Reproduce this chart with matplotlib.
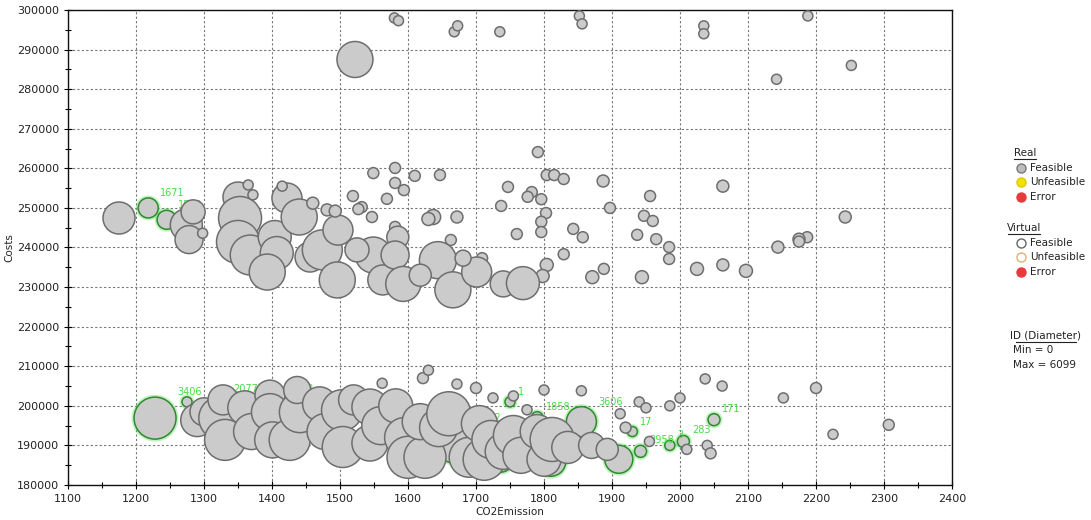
import matplotlib
matplotlib.use("Agg")
import matplotlib.pyplot as plt
from matplotlib.lines import Line2D
import numpy as np

# ---- solutions (CO2 emission, costs, ID) ----
co2 = [
    # upper outliers
    1580, 1586, 1668, 1673, 1735, 1852, 1856, 2035, 2035, 2188, 1522, 2142, 2252,
    # upper band
    1175, 1274, 1278, 1284, 1298,
    1350, 1353, 1350, 1368, 1404, 1407, 1393, 1422, 1440, 1456, 1474, 1496, 1497,
    1365, 1372, 1415, 1460, 1481, 1493, 1519, 1532, 1547, 1549, 1527, 1569,
    1549, 1563, 1525,
    1581, 1610, 1647, 1581, 1594, 1791, 1804, 1815, 1829, 1887, 1747, 1782, 1776,
    1796, 1737, 1897, 1956, 1637, 1630, 1672, 1803, 1796, 1796, 1760, 1843, 1857,
    1947, 1960, 1937, 1965, 1984, 1984, 1829, 1804, 1798, 1888, 1871, 1944, 1663,
    1709, 1581,
    1585, 1581, 1644, 1593, 1666, 1701, 1740, 1769, 1681, 1618,
    2063, 2243, 2187, 2175, 2175, 2144, 2025, 2063, 2097,
    # lower band
    1290, 1300, 1324, 1331, 1328, 1360, 1370, 1397, 1397, 1401, 1426, 1441, 1437,
    1470, 1478, 1503, 1504, 1520, 1544, 1544, 1560, 1582, 1595, 1600, 1625, 1618,
    1645, 1660, 1690, 1712, 1705, 1722, 1740, 1755, 1766, 1790, 1800, 1812, 1835,
    1870, 1893,
    1562, 1622, 1630, 1672, 1700, 1725, 1755, 1775, 1800, 1855, 1912, 1920, 1940,
    1950, 1955, 1985, 2000, 2010, 2037, 2040, 2045, 2062, 2152, 2200, 2225, 2307,
]
costs = [
    298000, 297300, 294500, 296000, 294500, 298500, 296500, 296000, 294000, 298500,
    287500, 282500, 286000,
    247450, 245700, 242000, 249000, 243600,
    252750, 247450, 241400, 238100, 242650, 238600, 233800, 252500, 247700, 237600,
    239400, 231800, 244400,
    255800, 253300, 255500, 251200, 249500, 249200, 253000, 250200, 247700, 258800,
    249700, 252300,
    238100, 231800, 239400,
    260100, 258100, 258300, 256300, 254500, 264100, 258300, 258300, 257300, 256800,
    255300, 254000, 252800, 252200, 250500, 250000, 253000, 247700, 247200, 247700,
    248700, 246500, 243900, 243400, 244700, 242600, 248000, 246700, 243200, 242100,
    240100, 237100, 238300, 235600, 232800, 234600, 232500, 232500, 241900, 237300,
    245200,
    242600, 238100, 236800, 230800, 229300, 233800, 230800, 231000, 237300, 233000,
    255500, 247700, 242600, 242100, 241500, 240100, 234600, 235600, 234100,
    196400, 198500, 196900, 191400, 201500, 199500, 193500, 202700, 198400, 191400,
    191400, 198400, 204000, 200500, 193500, 198900, 189600, 201500, 199700, 190600,
    195000, 200000, 192000, 187000, 187000, 196000, 194500, 198000, 187000, 186500,
    195500, 191500, 188500, 192500, 187500, 193500, 186500, 191500, 189500, 190000,
    189000,
    205700, 207000, 209000, 205500, 204500, 202000, 202500, 199000, 204000, 203800,
    198000, 194500, 201000, 199500, 191000, 200000, 202000, 189000, 206800, 190000,
    188000, 205000, 202000, 204500, 192800, 195200,
]
ids = [
    1390, 1390, 1390, 1390, 1390, 1390, 1390, 1390, 1390, 1390, 4990, 1390, 1390,
    4440, 4440, 3880, 3330, 1390,
    4160, 5960, 5960, 5540, 4570, 4570, 4990, 4160, 4990, 4160, 5540, 4990, 4160,
    1390, 1390, 1390, 1660, 1660, 1660, 1520, 1520, 1520, 1520, 1520, 1520,
    4990, 4160, 3330,
    1520, 1520, 1520, 1520, 1520, 1520, 1520, 1520, 1520, 1660, 1520, 1520, 1520,
    1520, 1520, 1520, 1520, 2080, 1800, 1660, 1520, 1520, 1520, 1520, 1520, 1520,
    1520, 1520, 1520, 1520, 1520, 1520, 1520, 1800, 1800, 1520, 1800, 1800, 1520,
    1520, 1520,
    3050, 3880, 5130, 4850, 4990, 4160, 3600, 4570, 2220, 3050,
    1660, 1660, 1520, 1660, 1520, 1660, 1800, 1660, 1800,
    4570, 3880, 5960, 5680, 4160, 4710, 4990, 4160, 5130, 4990, 5680, 5680, 3740,
    4710, 4990, 5680, 5680, 4160, 4990, 4990, 5270, 4710, 5540, 5820, 5820, 4990,
    5270, 6099, 5540, 5820, 4990, 5270, 4990, 5540, 4990, 4710, 4710, 6099, 4440,
    3600, 3050,
    1390, 1520, 1390, 1390, 1520, 1390, 1390, 1390, 1390, 1390, 1390, 1520, 1390,
    1390, 1390, 1390, 1390, 1390, 1390, 1390, 1520, 1390, 1390, 1520, 1390, 1520,
]

# labelled (highlighted) solutions
hl_co2 = [1218, 1245, 1228, 1275, 1330, 1352, 1430, 1670, 1750, 1790, 1855, 1910,
          1930, 2005, 1942, 2050, 1985, 1810, 1735]
hl_costs = [250000, 247000, 196900, 201000, 201500, 197300, 201500, 190500, 201000,
            197000, 196000, 186500, 193500, 191000, 188500, 196500, 190000, 186000,
            187000]
hl_ids = [2770, 2630, 5820, 1390, 1660, 1660, 1660, 5540, 1390, 1660, 4160, 3880,
          1390, 1660, 1660, 1660, 1390, 4160, 4160]
hl_labels = ["1671", "1502", "3406", "", "2077", "4056", "23", "3652", "1", "1858",
             "3606", "", "17", "283", "2958", "171", "3", "", ""]

ID_MIN, ID_MAX = 0, 6099
MAX_DIAM_PX = 44.0

DPI = 100
fig = plt.figure(figsize=(10.91, 5.20), dpi=DPI)
ax = fig.add_axes([68 / 1091, 1 - 485 / 520, (952 - 68) / 1091, (485 - 10) / 520])


def diam_px(v):
    return MAX_DIAM_PX * (np.asarray(v, dtype=float) - ID_MIN) / (ID_MAX - ID_MIN)


def marker_area(v):
    return (diam_px(v) * 72.0 / DPI) ** 2


FILL = "#cbcbcb"
EDGE = "#6e6e6e"
GREEN = "#44dd44"

# highlighted rings and labels sit beneath the regular bubbles
hs = marker_area(hl_ids)
hd = diam_px(hl_ids)
ax.scatter(hl_co2, hl_costs, s=hs, facecolor=FILL, edgecolor=GREEN,
           linewidths=3.5, alpha=0.35, zorder=2)
ax.scatter(hl_co2, hl_costs, s=hs, facecolor=FILL, edgecolor="#2f8a2f",
           linewidths=1.1, zorder=2.1)
for x, y, d, t in zip(hl_co2, hl_costs, hd, hl_labels):
    if t:
        ax.annotate(t, (x, y), xytext=(d * 0.45 + 3, d * 0.5),
                    textcoords="offset pixels", ha="left", va="bottom",
                    fontsize=7, color=GREEN, zorder=2.2)

ax.scatter(co2, costs, s=marker_area(ids), facecolor=FILL, edgecolor=EDGE,
           linewidths=1.1, zorder=3)

ax.set_xlim(1100, 2400)
ax.set_ylim(180000, 300000)
ax.set_xticks(np.arange(1100, 2401, 100))
ax.set_xticks(np.arange(1150, 2400, 100), minor=True)
ax.set_yticks(np.arange(180000, 300001, 10000))
ax.set_yticks(np.arange(185000, 300000, 10000), minor=True)
ax.grid(True, which="major", color="#777777", linestyle=(0, (2, 2)), linewidth=0.8)
ax.set_axisbelow(True)
ax.tick_params(which="major", direction="inout", length=6, width=0.8,
               labelsize=8, labelcolor="#222222")
ax.tick_params(which="minor", direction="inout", length=5, width=0.8)
for sp in ax.spines.values():
    sp.set_color("#111111")
    sp.set_linewidth(1.0)
ax.set_xlabel("CO2Emission", fontsize=7.5, color="#222222", labelpad=2)
ax.set_ylabel("Costs", fontsize=7.5, color="#222222", labelpad=2)


# ---- legend panel ----
def fx(px):
    return px / 1091


def fy(py):
    return 1 - py / 520


def heading(text, cx, py, half):
    fig.text(fx(cx), fy(py), text, ha="center", va="center", fontsize=7.5,
             color="#222222")
    fig.add_artist(Line2D([fx(cx - half), fx(cx + half)], [fy(py + 6), fy(py + 6)],
                          color="#222222", linewidth=0.8))


def item(py, face, edge, label):
    fig.add_artist(Line2D([fx(1021)], [fy(py)], marker="o", markersize=6.5,
                          markerfacecolor=face, markeredgecolor=edge,
                          markeredgewidth=1.0, linestyle="none"))
    fig.text(fx(1030), fy(py), label, ha="left", va="center", fontsize=7.5,
             color="#222222")


heading("Real", 1025, 153, 11)
item(168, "#bdbdbd", "#777777", "Feasible")
item(182, "#f2e200", "#e0c800", "Unfeasible")
item(197, "#e83a3a", "#e83a3a", "Error")

heading("Virtual", 1024, 228, 16)
item(243, "white", "#666666", "Feasible")
item(257, "white", "#e0b070", "Unfeasible")
item(272, "#e83a3a", "#e83a3a", "Error")

heading("ID (Diameter)", 1046, 336, 30)
fig.text(fx(1013), fy(350), "Min = %d" % ID_MIN, ha="left", va="center",
         fontsize=7.5, color="#222222")
fig.text(fx(1013), fy(365), "Max = %d" % ID_MAX, ha="left", va="center",
         fontsize=7.5, color="#222222")

fig.savefig("out.png", dpi=DPI, facecolor="white")
